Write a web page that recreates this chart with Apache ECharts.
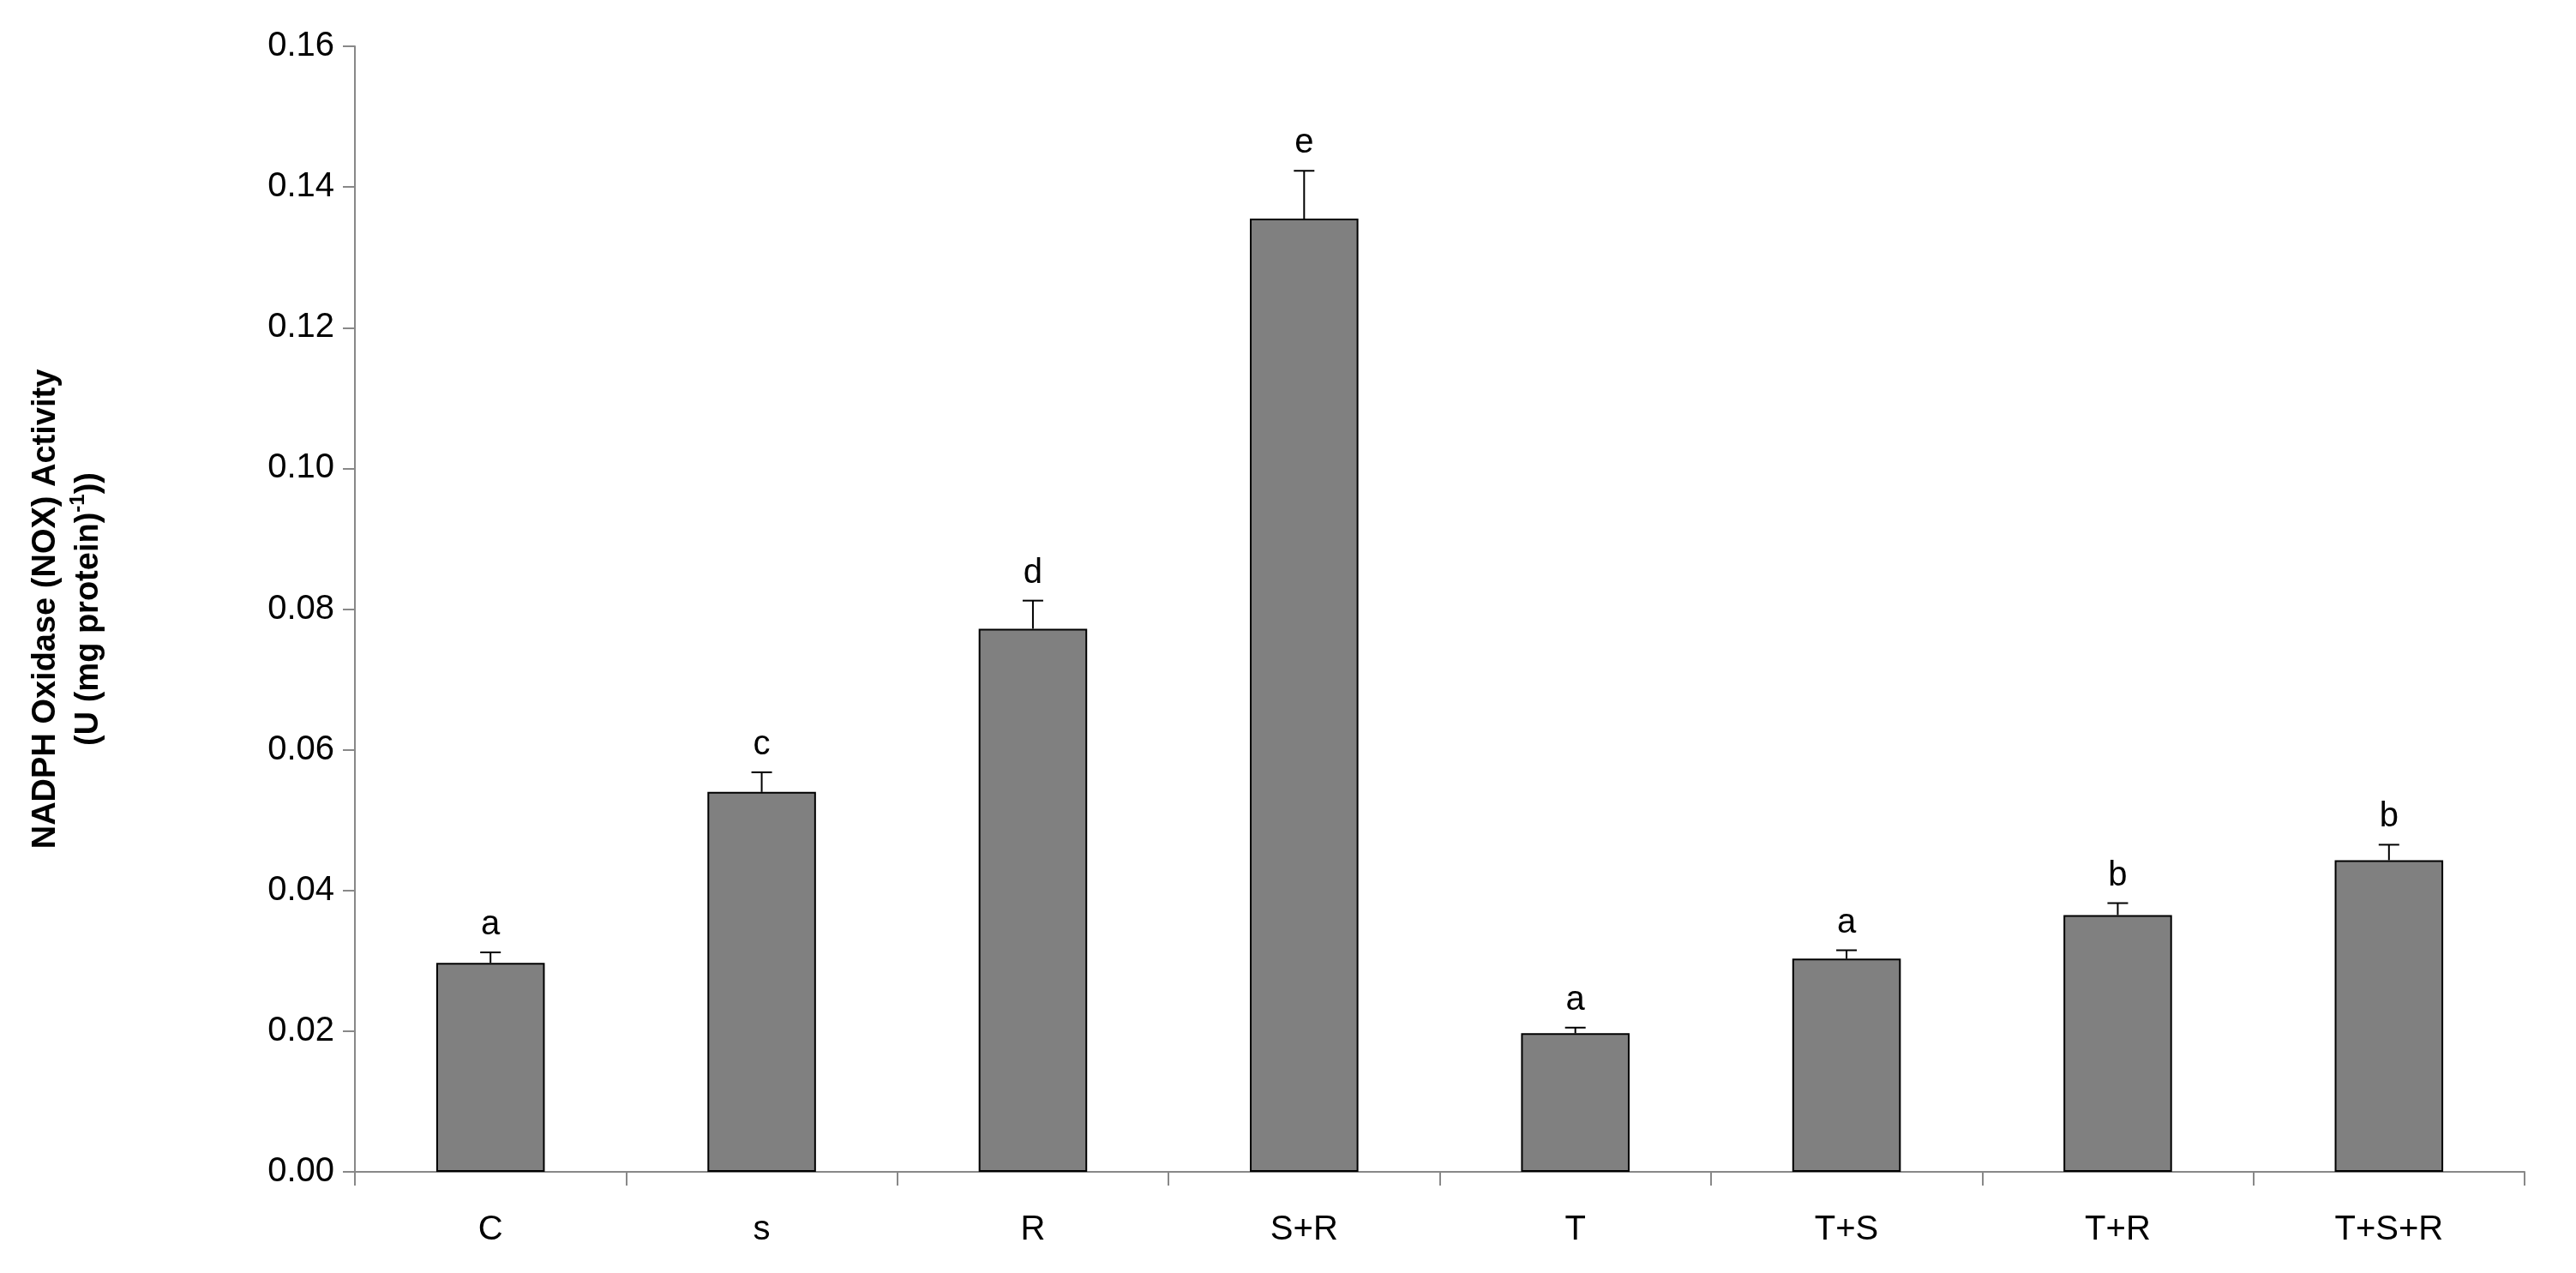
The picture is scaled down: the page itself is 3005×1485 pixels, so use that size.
<!DOCTYPE html>
<html>
<head>
<meta charset="utf-8">
<script src="https://cdn.jsdelivr.net/npm/echarts@6/dist/echarts.min.js"></script>
<style>html,body{margin:0;background:#fff}#c{width:3005px;height:1485px}</style>
</head>
<body>
<div id="c"></div>
<script>
// 数据
const categories = ['C', 's', 'R', 'S+R', 'T', 'T+S', 'T+R', 'T+S+R'];
const means = [0.0297, 0.0540, 0.0772, 0.1355, 0.0197, 0.0303, 0.0365, 0.0443];
const errors = [0.0015, 0.0028, 0.0040, 0.0068, 0.0008, 0.0012, 0.0017, 0.0022];
const letters = ['a', 'c', 'd', 'e', 'a', 'a', 'b', 'b'];
const yTicks = [0, 0.02, 0.04, 0.06, 0.08, 0.10, 0.12, 0.14, 0.16];

const font = '"Liberation Sans Narrow", "Liberation Sans", Arial, sans-serif';
const chart = echarts.init(document.getElementById('c'));

chart.setOption({
  animation: false,
  grid: { left: 414, right: 60, top: 54, bottom: 118 },
  xAxis: {
    type: 'category',
    data: categories,
    axisLine: { lineStyle: { color: '#888', width: 2 } },
    axisTick: { show: true, length: 16, lineStyle: { color: '#888', width: 2 } },
    axisLabel: { color: '#000', fontSize: 40, fontFamily: font, margin: 48 }
  },
  yAxis: {
    type: 'value',
    min: yTicks[0], max: yTicks[yTicks.length - 1], interval: 0.02,
    name: 'NADPH Oxidase (NOX) Activity\n(U (mg protein){sup|-1}))',
    nameLocation: 'middle',
    nameGap: 285,
    nameTextStyle: {
      color: '#000', fontSize: 38, fontWeight: 'bold', fontFamily: 'Liberation Sans, Arial',
      lineHeight: 50, rich: { sup: { fontSize: 24, fontWeight: 'bold', verticalAlign: 'top', padding: [0, 0, 14, 0] } }
    },
    splitLine: { show: false },
    axisLine: { show: true, lineStyle: { color: '#888', width: 2 } },
    axisTick: { show: true, length: 14, lineStyle: { color: '#888', width: 2 } },
    axisLabel: { color: '#000', fontSize: 40, fontFamily: font, margin: 24, formatter: v => v.toFixed(2) }
  },
  series: [
    {
      type: 'bar',
      data: means,
      barWidth: '40%',
      itemStyle: { color: '#808080', borderColor: '#000', borderWidth: 2 }
    },
    {
      type: 'custom',
      data: means.map((m, i) => [i, m, errors[i], letters[i]]),
      renderItem: (params, api) => {
        const x = api.value(0);
        const top = api.coord([x, api.value(1) + api.value(2)]);
        const base = api.coord([x, api.value(1)]);
        return {
          type: 'group',
          children: [
            { type: 'line', shape: { x1: base[0], y1: base[1], x2: top[0], y2: top[1] }, style: { stroke: '#000', lineWidth: 2 } },
            { type: 'line', shape: { x1: top[0] - 12, y1: top[1], x2: top[0] + 12, y2: top[1] }, style: { stroke: '#000', lineWidth: 2 } },
            { type: 'text', style: { text: api.value(3), x: top[0], y: top[1] - 12, fontSize: 40, fontFamily: font, fill: '#000', align: 'center', verticalAlign: 'bottom' } }
          ]
        };
      },
      z: 5
    }
  ]
});
</script>
</body>
</html>
